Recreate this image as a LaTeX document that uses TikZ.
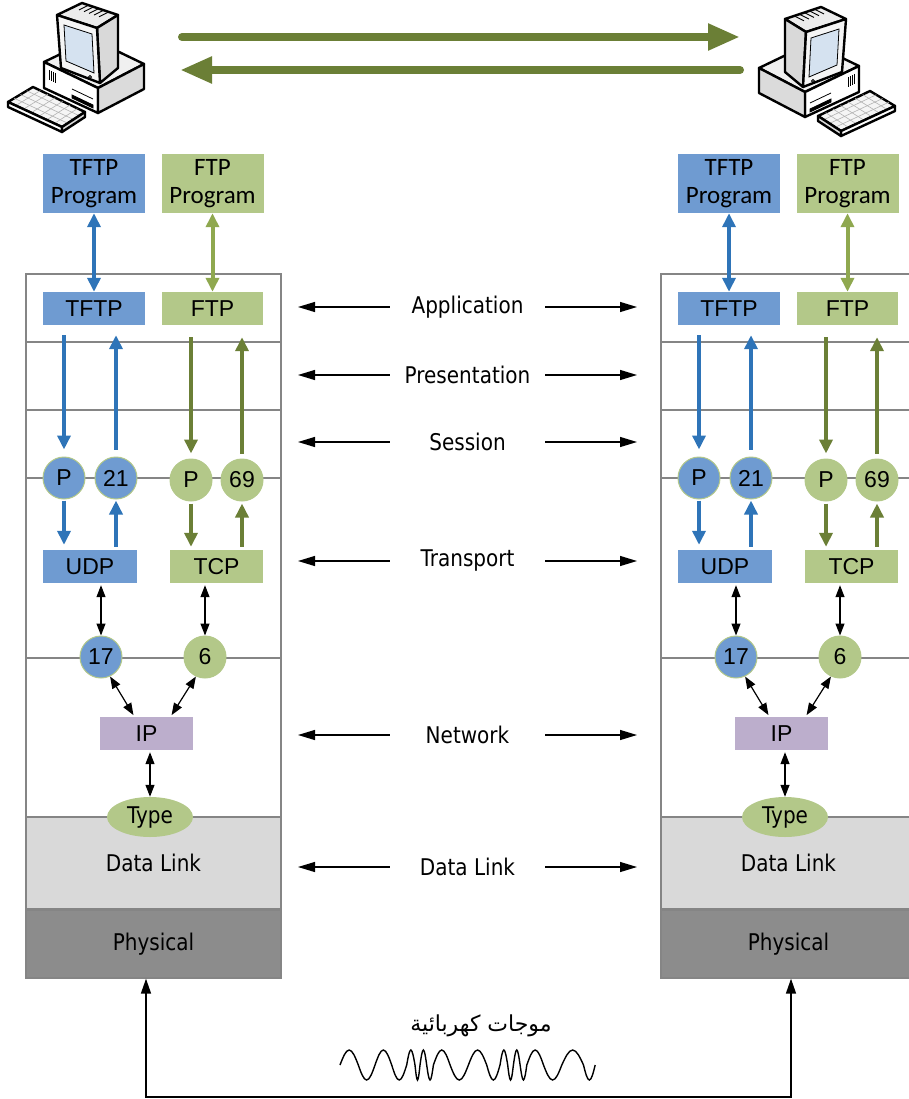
\documentclass[tikz,border=0pt]{standalone}
\usepackage{fontspec}
\setmainfont{Liberation Sans}
\newfontfamily\layerfont[FakeStretch=0.87]{DejaVu Sans}
\newfontfamily\progfont{Carlito}
\newfontfamily\arabicfont[Script=Arabic]{DejaVu Sans}
\TeXXeTstate=1
\usetikzlibrary{arrows.meta,positioning,shapes.geometric}

\definecolor{BoxBlue}{HTML}{6F9BD1}
\definecolor{BoxGreen}{HTML}{B3C889}
\definecolor{BoxPurple}{HTML}{BCAECC}
\definecolor{ArrBlue}{HTML}{2E74B8}
\definecolor{ArrGreen}{HTML}{6B7F36}
\definecolor{ArrLime}{HTML}{8FA84F}
\definecolor{LinkGray}{HTML}{D9D9D9}
\definecolor{PhysGray}{HTML}{8C8C8C}
\definecolor{EdgeGray}{HTML}{858585}
\definecolor{ScreenBlue}{HTML}{D5E2F0}

\tikzset{
  layer/.style={draw=EdgeGray, line width=1.3pt, minimum width=255pt, inner sep=0pt, font=\layerfont\fontsize{23}{27}\selectfont},
  proto/.style={minimum height=33pt, inner sep=0pt, font=\fontsize{23}{26}\selectfont},
  prog/.style={minimum width=102pt, minimum height=59pt, inner sep=0pt, align=center, font=\progfont\fontsize{25}{28}\selectfont},
  port/.style={circle, draw=BoxGreen, line width=1pt, minimum size=42pt, inner sep=0pt, font=\fontsize{23}{26}\selectfont},
  flow/.style={draw=#1, line width=4pt, -{Triangle[length=14pt,width=13pt]}},
  duplex/.style={draw=#1, line width=4pt, {Triangle[length=14pt,width=13pt]}-{Triangle[length=14pt,width=13pt]}},
  link/.style={line width=1.2pt, {Triangle[length=12pt,width=9pt]}-{Triangle[length=12pt,width=9pt]}},
  peer/.style={line width=1.2pt, -{Triangle[length=17pt,width=10pt]}},
  osi/.style={minimum width=155pt, inner sep=0pt, font=\layerfont\fontsize{23}{27}\selectfont},
  bulk/.style={draw=ArrGreen, line width=8pt, line cap=round, -{Triangle[length=32pt,width=25pt]}},
  wire/.style={line width=1.5pt, {Triangle[length=15pt,width=10pt]}-{Triangle[length=15pt,width=10pt]}},
  pcline/.style={draw=black, line width=2.4pt, line join=round}
}

% desktop computer, keyboard on the left
\newcommand{\desktop}{%
  % case
  \filldraw[pcline, fill=gray!12] (44,62) -- (92,39) -- (144,64) -- (98,88) -- cycle;
  \filldraw[pcline, fill=white] (44,62) -- (98,88) -- (98,113) -- (44,88) -- cycle;
  \filldraw[pcline, fill=gray!28] (98,88) -- (144,64) -- (144,89) -- (98,113) -- cycle;
  \foreach \k in {0,...,3}
    \draw[line width=0.9pt] ({49+2*\k},{70+\k}) -- ({49+2*\k},{80+\k});
  \filldraw[line width=0.8pt, fill=black] (72,95) -- (93,105) -- (93,108) -- (72,98) -- cycle;
  \draw[line width=0.8pt] (72,89) -- (93,99);
  % monitor
  \filldraw[pcline, fill=gray!15] (57,15) -- (82,3) -- (118,15) -- (97,28) -- cycle;
  \foreach \k in {0,...,4}
    \draw[line width=0.9pt] ({89+5*\k},{5+1.7*\k}) -- ({79+5*\k},{10+1.7*\k});
  \filldraw[pcline, fill=gray!30] (97,28) -- (118,15) -- (118,68) -- (100,83) -- cycle;
  \filldraw[pcline, fill=gray!8] (57,15) -- (97,28) -- (100,83) -- (61,68) -- cycle;
  \filldraw[line width=0.8pt, fill=ScreenBlue] (64,25) -- (92,34) -- (94,73) -- (66,61) -- cycle;
  \draw[line width=0.8pt] (90,77) circle (1.5);
  % keyboard
  \filldraw[pcline, fill=gray!8] (8,102) -- (33,87) -- (85,112) -- (62,127) -- cycle;
  \foreach \k in {1,...,3}
    \draw[gray!60, line width=0.6pt] ({8+6.25*\k},{102-3.75*\k}) -- ({62+5.75*\k},{127-3.75*\k});
  \foreach \k in {1,...,6}
    \draw[gray!60, line width=0.6pt] ({8+7.7*\k},{102+3.6*\k}) -- ({33+7.4*\k},{87+3.6*\k});
  \filldraw[pcline, fill=white] (8,102) -- (62,127) -- (62,132) -- (8,107) -- cycle;
  \filldraw[pcline, fill=gray!28] (62,127) -- (85,112) -- (85,117) -- (62,132) -- cycle;
}

\begin{document}
\begin{tikzpicture}[x=1pt, y=-1pt]
  \useasboundingbox (0,0) rectangle (909,1099);

  % the two hosts
  \begin{scope}
    \desktop
  \end{scope}
  \begin{scope}[shift={(903,4)}, xscale=-1]
    \desktop
  \end{scope}

  \coordinate (sendA) at (182,37);
  \coordinate (sendB) at (740,37);
  \coordinate (backA) at (740,70);
  \coordinate (backB) at (180,70);
  \draw[bulk] (sendA) -- (sendB);
  \draw[bulk] (backA) -- (backB);

  % protocol stacks
  \foreach \s/\dx in {L/0, R/635}{
    \begin{scope}[shift={(\dx,0)}, name prefix=\s-]
      \node[layer, minimum height=68pt] (appl) at (153.5,308) {};
      \node[layer, minimum height=68pt] (pres) at (153.5,376) {};
      \node[layer, minimum height=68pt] (sess) at (153.5,444) {};
      \node[layer, minimum height=180pt] (trans) at (153.5,568) {};
      \node[layer, minimum height=160pt] (net) at (153.5,738) {};
      \node[layer, minimum height=92pt, fill=LinkGray] (dlink) at (153.5,863) {Data Link};
      \node[layer, minimum height=68pt, fill=PhysGray] (phys) at (153.5,944) {Physical};

      \node[prog, fill=BoxBlue] (progT) at (94,183.5) {TFTP\\Program};
      \node[prog, fill=BoxGreen] (progF) at (212.5,183.5) {FTP\\Program};
      \node[proto, fill=BoxBlue, minimum width=102pt] (appT) at (94,308.5) {TFTP};
      \node[proto, fill=BoxGreen, minimum width=101pt] (appF) at (212.5,308.5) {FTP};

      \node[port, fill=BoxBlue] (pT) at (64,478) {P};
      \node[port, fill=BoxBlue] (p21) at (116,478) {21};
      \node[port, fill=BoxGreen] (pF) at (191,480) {P};
      \node[port, fill=BoxGreen] (p69) at (242,480) {69};

      \node[proto, fill=BoxBlue, minimum width=94pt] (udp) at (90,566.5) {UDP};
      \node[proto, fill=BoxGreen, minimum width=93pt] (tcp) at (216.5,566.5) {TCP};
      \node[port, fill=BoxBlue] (c17) at (101,657) {17};
      \node[port, fill=BoxGreen] (c6) at (205,657) {6};
      \node[proto, fill=BoxPurple, minimum width=93pt] (ip) at (146.5,733.5) {IP};
      \node[ellipse, fill=BoxGreen, minimum width=86pt, minimum height=40pt, inner sep=0pt,
            font=\layerfont\fontsize{23}{27}\selectfont] (type) at (150,817) {Type};

      \draw[duplex=ArrBlue] (progT) -- (appT);
      \draw[duplex=ArrLime] (progF) -- (appF);

      \draw[flow=ArrBlue, shorten <=10pt, shorten >=7pt] (appT.south -| pT) -- (pT);
      \draw[flow=ArrBlue, shorten <=7pt, shorten >=10pt] (p21) -- (appT.south -| p21);
      \draw[flow=ArrGreen, shorten <=12pt, shorten >=5pt] (appF.south -| pF) -- (pF);
      \draw[flow=ArrGreen, shorten <=5pt, shorten >=12pt] (p69) -- (appF.south -| p69);

      \draw[flow=ArrBlue, shorten <=1pt, shorten >=5pt] (pT) -- (udp.north -| pT);
      \draw[flow=ArrBlue, shorten <=3pt, shorten >=1pt] (udp.north -| p21) -- (p21);
      \draw[flow=ArrGreen, shorten <=2pt, shorten >=3pt] (pF) -- (tcp.north -| pF);
      \draw[flow=ArrGreen, shorten <=3pt, shorten >=2pt] (tcp.north -| p69) -- (p69);

      \draw[link, shorten <=2pt] (udp.south -| c17) -- (c17);
      \draw[link, shorten <=2pt] (tcp.south -| c6) -- (c6);
      \draw[link, shorten >=2pt] (c17.-65) -- ([xshift=-12pt]ip.north);
      \draw[link, shorten >=2pt] (c6.-115) -- ([xshift=24pt]ip.north);
      \draw[link, shorten <=2pt] (ip.south -| type) -- (type);
    \end{scope}
  }

  % peer layers
  \foreach \n/\t/\y in {app/Application/307, pres/Presentation/375, sess/Session/442,
                        trans/Transport/561, net/Network/735, dl/Data Link/867}{
    \node[osi] (\n) at (467.5,\y) {\t};
    \coordinate (\n-l) at (298,\y);
    \coordinate (\n-r) at (637,\y);
    \draw[peer] (\n.west) -- (\n-l);
    \draw[peer] (\n.east) -- (\n-r);
  }

  % medium
  \coordinate (wireL) at (146,1097);
  \coordinate (wireR) at (791,1097);
  \draw[wire] (L-phys.south -| wireL) -- (wireL) -- (wireR) -- (R-phys.south -| wireR);

  \node[font=\arabicfont\fontsize{22}{26}\selectfont] (waves) at (481,1026) {\beginR موجات كهربائية\endR};
  \draw[line width=1.4pt] (340,1065)
    \foreach \w/\a in {18.3/-15, 16.7/15, 16.7/-15, 15/15, 8.3/-15, 5/15, 6.7/-15, 6.7/15,
                       16.7/-15, 18.3/15, 18.3/-15, 13.3/15, 7.7/-15, 5.7/15, 6.7/-15, 6.7/15,
                       16.7/-15, 18.3/15, 21.7/-15, 11.7/15}{
      sin ++({\w/2},{\a}) cos ++({\w/2},{-\a})
    };
\end{tikzpicture}
\end{document}
